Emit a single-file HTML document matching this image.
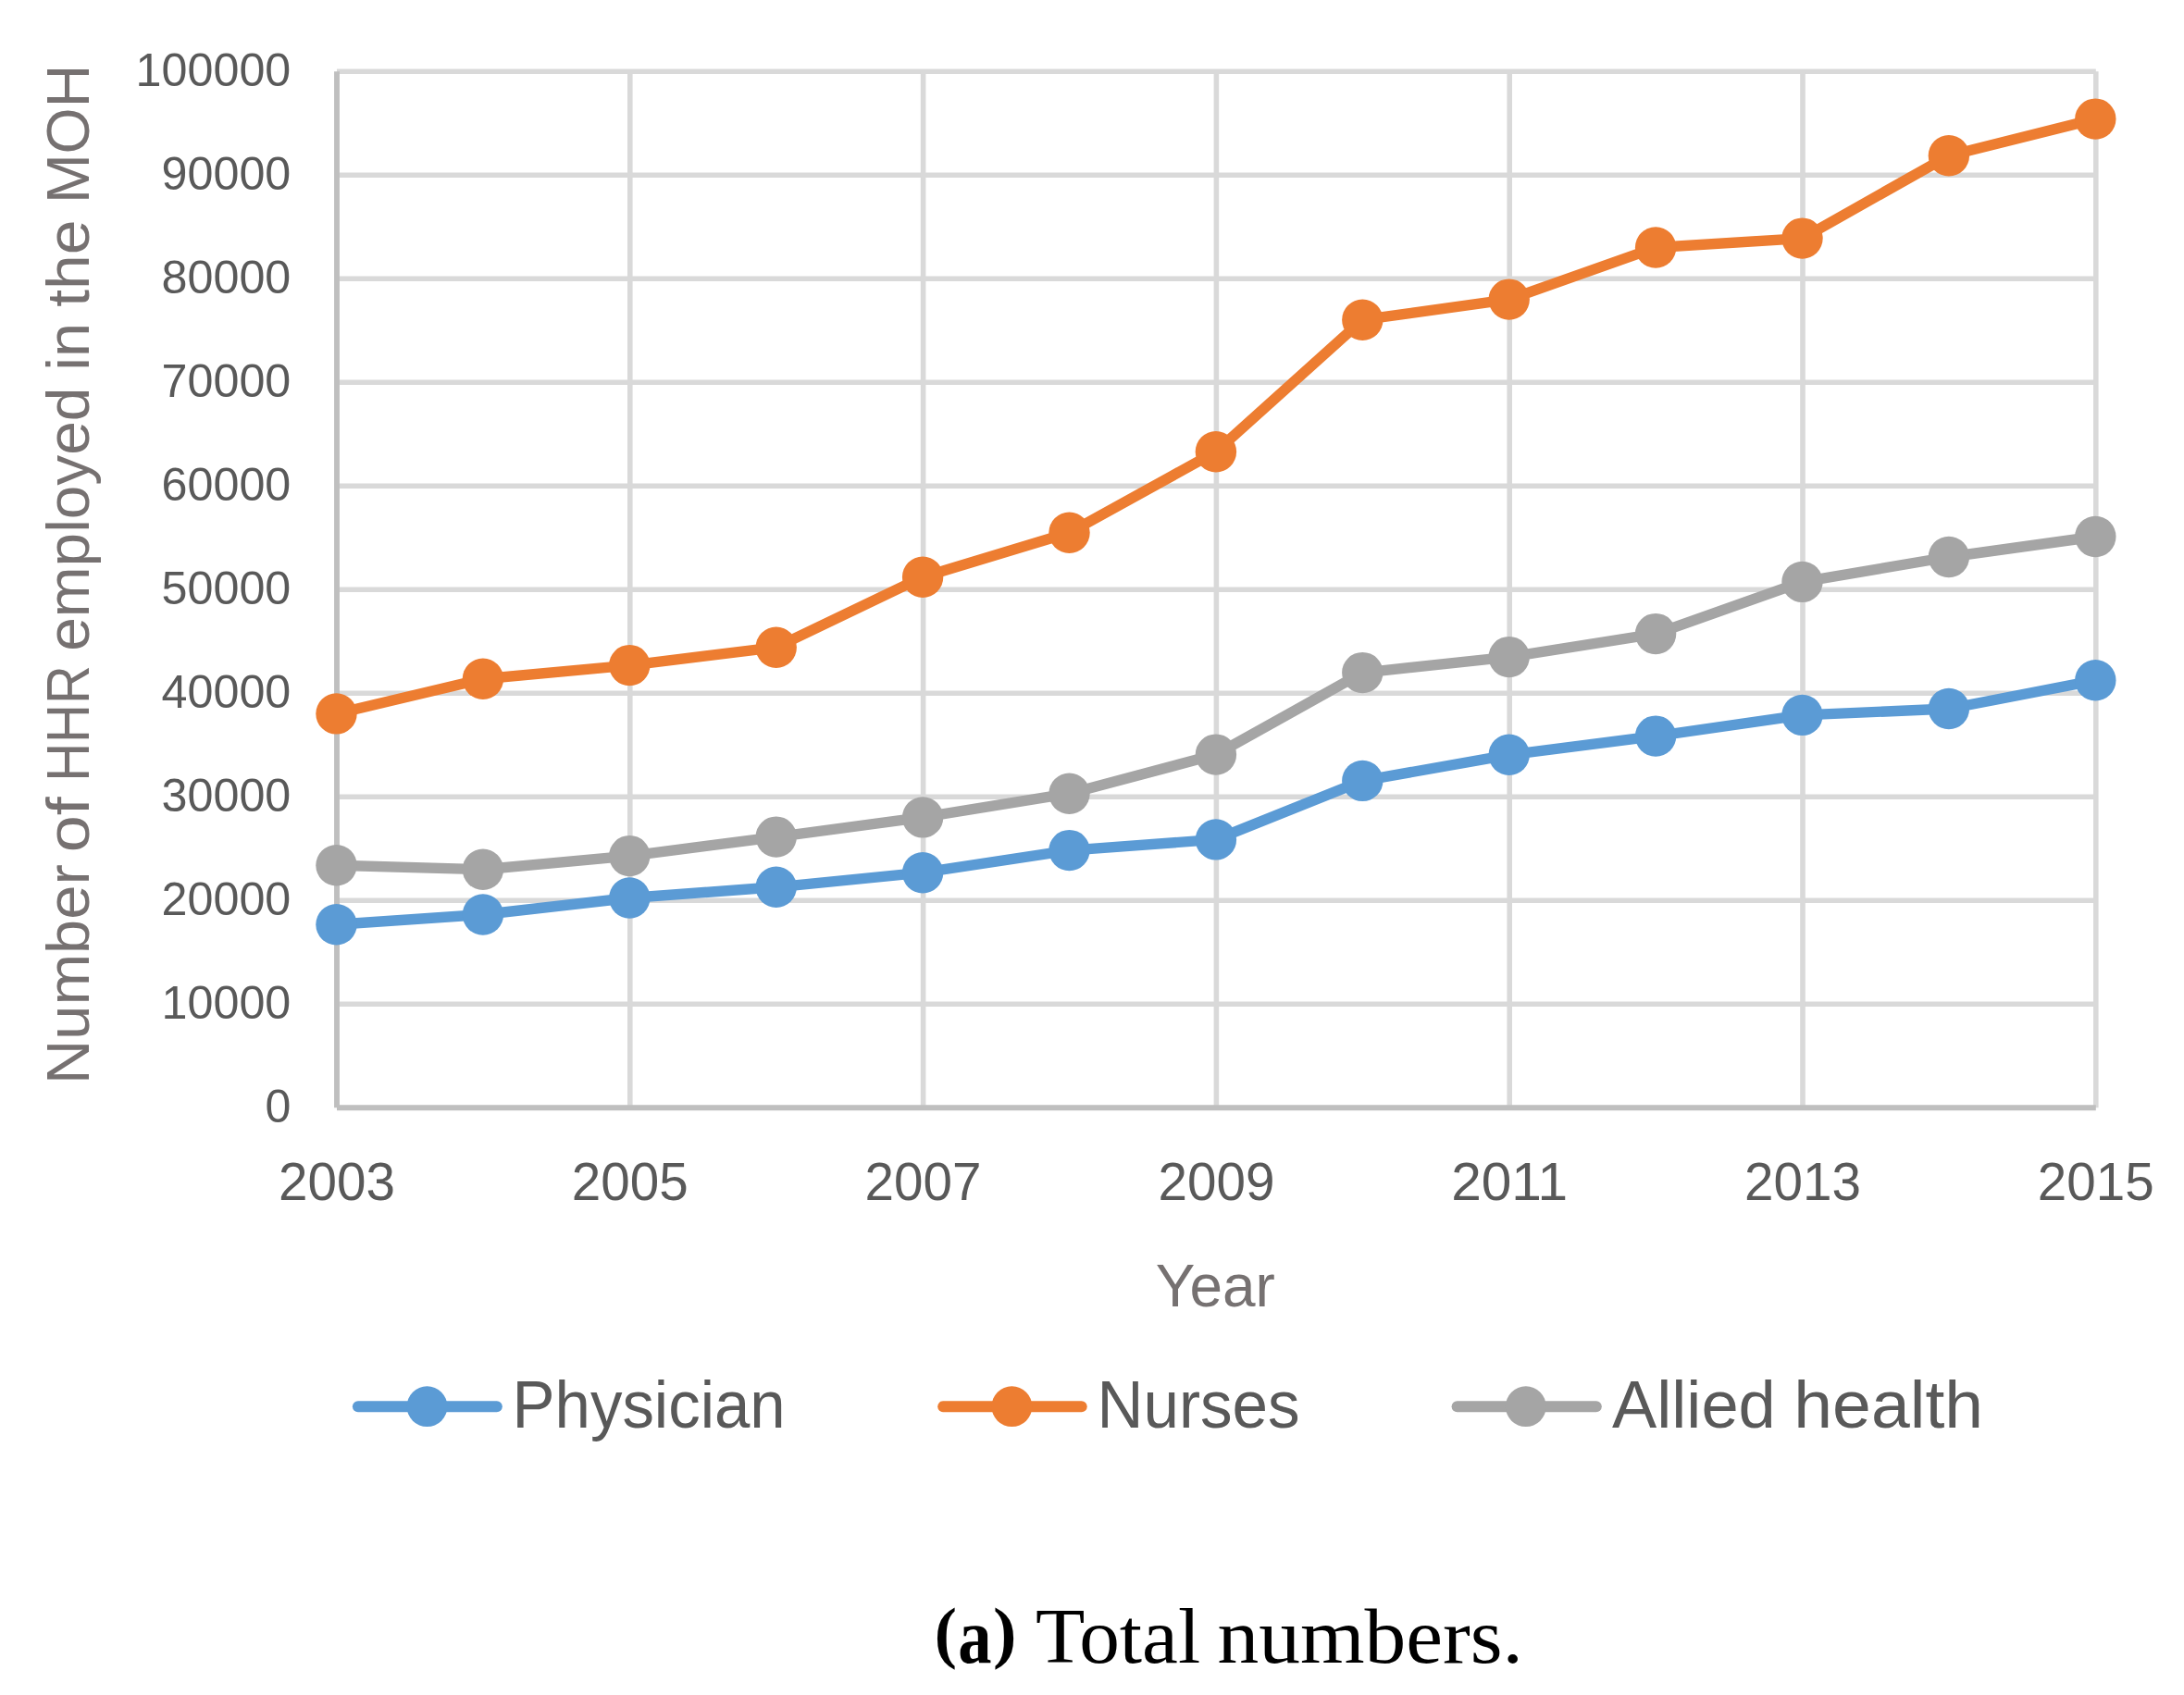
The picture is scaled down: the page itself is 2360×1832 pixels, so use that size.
<!DOCTYPE html>
<html lang="en"><head><meta charset="utf-8"><title>Total numbers</title>
<style>html,body{margin:0;padding:0;background:#fff}svg{display:block}text{font-family:"Liberation Sans",sans-serif}.cap{font-family:"Liberation Serif",serif}</style></head><body>
<svg width="2360" height="1832" viewBox="0 0 2360 1832">
<rect width="2360" height="1832" fill="#fff"/>
<g stroke="#d9d9d9" stroke-width="5.6" fill="none">
<line x1="364.0" y1="1085.3" x2="2264.8" y2="1085.3"/>
<line x1="364.0" y1="973.3" x2="2264.8" y2="973.3"/>
<line x1="364.0" y1="861.3" x2="2264.8" y2="861.3"/>
<line x1="364.0" y1="749.3" x2="2264.8" y2="749.3"/>
<line x1="364.0" y1="637.2" x2="2264.8" y2="637.2"/>
<line x1="364.0" y1="525.2" x2="2264.8" y2="525.2"/>
<line x1="364.0" y1="413.2" x2="2264.8" y2="413.2"/>
<line x1="364.0" y1="301.2" x2="2264.8" y2="301.2"/>
<line x1="364.0" y1="189.2" x2="2264.8" y2="189.2"/>
<line x1="364.0" y1="77.2" x2="2264.8" y2="77.2"/>
<line x1="680.8" y1="77.2" x2="680.8" y2="1197.3"/>
<line x1="997.6" y1="77.2" x2="997.6" y2="1197.3"/>
<line x1="1314.4" y1="77.2" x2="1314.4" y2="1197.3"/>
<line x1="1631.2" y1="77.2" x2="1631.2" y2="1197.3"/>
<line x1="1948.0" y1="77.2" x2="1948.0" y2="1197.3"/>
<line x1="2264.8" y1="77.2" x2="2264.8" y2="1197.3"/>
</g>
<g stroke="#bfbfbf" stroke-width="5.9" fill="none">
<line x1="364.0" y1="77.2" x2="364.0" y2="1197.3"/>
<line x1="364.0" y1="1197.3" x2="2264.8" y2="1197.3"/>
</g>
<g fill="#595959" font-size="50.2" text-anchor="end">
<text x="314.3" y="1212.8" textLength="27.9" lengthAdjust="spacingAndGlyphs">0</text>
<text x="314.3" y="1100.8" textLength="139.8" lengthAdjust="spacingAndGlyphs">10000</text>
<text x="314.3" y="988.8" textLength="139.8" lengthAdjust="spacingAndGlyphs">20000</text>
<text x="314.3" y="876.8" textLength="139.8" lengthAdjust="spacingAndGlyphs">30000</text>
<text x="314.3" y="764.8" textLength="139.8" lengthAdjust="spacingAndGlyphs">40000</text>
<text x="314.3" y="652.8" textLength="139.8" lengthAdjust="spacingAndGlyphs">50000</text>
<text x="314.3" y="540.7" textLength="139.8" lengthAdjust="spacingAndGlyphs">60000</text>
<text x="314.3" y="428.7" textLength="139.8" lengthAdjust="spacingAndGlyphs">70000</text>
<text x="314.3" y="316.7" textLength="139.8" lengthAdjust="spacingAndGlyphs">80000</text>
<text x="314.3" y="204.7" textLength="139.8" lengthAdjust="spacingAndGlyphs">90000</text>
<text x="314.3" y="92.7" textLength="167.7" lengthAdjust="spacingAndGlyphs">100000</text>
</g>
<g fill="#595959" font-size="56.5" text-anchor="middle">
<text x="364.0" y="1296.9" textLength="126.0" lengthAdjust="spacingAndGlyphs">2003</text>
<text x="680.8" y="1296.9" textLength="126.0" lengthAdjust="spacingAndGlyphs">2005</text>
<text x="997.6" y="1296.9" textLength="126.0" lengthAdjust="spacingAndGlyphs">2007</text>
<text x="1314.4" y="1296.9" textLength="126.0" lengthAdjust="spacingAndGlyphs">2009</text>
<text x="1631.2" y="1296.9" textLength="126.0" lengthAdjust="spacingAndGlyphs">2011</text>
<text x="1948.0" y="1296.9" textLength="126.0" lengthAdjust="spacingAndGlyphs">2013</text>
<text x="2264.8" y="1296.9" textLength="126.0" lengthAdjust="spacingAndGlyphs">2015</text>
</g>
<text y="1411.7" fill="#767171" font-size="64.0"><tspan x="1248.72" textLength="129.18" lengthAdjust="spacingAndGlyphs">Year</tspan></text>
<text transform="translate(96.4 1166.3) rotate(-90)" y="0" fill="#767171" font-size="65.3"><tspan x="-5.67" textLength="237.59" lengthAdjust="spacingAndGlyphs">Number</tspan> <tspan x="245.03" textLength="60.08" lengthAdjust="spacingAndGlyphs">of</tspan> <tspan x="321.54" textLength="125.55" lengthAdjust="spacingAndGlyphs">HHR</tspan> <tspan x="462.57" textLength="285.08" lengthAdjust="spacingAndGlyphs">employed</tspan> <tspan x="765.58" textLength="51.79" lengthAdjust="spacingAndGlyphs">in</tspan> <tspan x="834.60" textLength="94.21" lengthAdjust="spacingAndGlyphs">the</tspan> <tspan x="946.20" textLength="150.49" lengthAdjust="spacingAndGlyphs">MOH</tspan></text>
<polyline points="363.5,999.2 521.9,988.5 680.3,970.5 838.7,958.8 997.1,943.2 1155.5,919.1 1313.9,907.4 1472.3,843.9 1630.7,815.8 1789.1,795.6 1947.5,772.9 2105.9,766.0 2264.3,735.3" fill="none" stroke="#5b9bd5" stroke-width="11.4" stroke-linejoin="round" stroke-linecap="round"/>
<g fill="#5b9bd5"><circle cx="363.5" cy="999.2" r="22.2"/><circle cx="521.9" cy="988.5" r="22.2"/><circle cx="680.3" cy="970.5" r="22.2"/><circle cx="838.7" cy="958.8" r="22.2"/><circle cx="997.1" cy="943.2" r="22.2"/><circle cx="1155.5" cy="919.1" r="22.2"/><circle cx="1313.9" cy="907.4" r="22.2"/><circle cx="1472.3" cy="843.9" r="22.2"/><circle cx="1630.7" cy="815.8" r="22.2"/><circle cx="1789.1" cy="795.6" r="22.2"/><circle cx="1947.5" cy="772.9" r="22.2"/><circle cx="2105.9" cy="766.0" r="22.2"/><circle cx="2264.3" cy="735.3" r="22.2"/></g>
<polyline points="363.5,771.4 521.9,733.7 680.3,719.1 838.7,699.7 997.1,623.7 1155.5,575.8 1313.9,488.2 1472.3,345.7 1630.7,323.6 1789.1,267.5 1947.5,257.6 2105.9,168.2 2264.3,128.6" fill="none" stroke="#ed7d31" stroke-width="11.4" stroke-linejoin="round" stroke-linecap="round"/>
<g fill="#ed7d31"><circle cx="363.5" cy="771.4" r="22.2"/><circle cx="521.9" cy="733.7" r="22.2"/><circle cx="680.3" cy="719.1" r="22.2"/><circle cx="838.7" cy="699.7" r="22.2"/><circle cx="997.1" cy="623.7" r="22.2"/><circle cx="1155.5" cy="575.8" r="22.2"/><circle cx="1313.9" cy="488.2" r="22.2"/><circle cx="1472.3" cy="345.7" r="22.2"/><circle cx="1630.7" cy="323.6" r="22.2"/><circle cx="1789.1" cy="267.5" r="22.2"/><circle cx="1947.5" cy="257.6" r="22.2"/><circle cx="2105.9" cy="168.2" r="22.2"/><circle cx="2264.3" cy="128.6" r="22.2"/></g>
<polyline points="363.5,935.2 521.9,939.7 680.3,925.1 838.7,904.6 997.1,883.4 1155.5,857.7 1313.9,815.6 1472.3,727.1 1630.7,710.1 1789.1,685.1 1947.5,628.9 2105.9,602.0 2264.3,580.0" fill="none" stroke="#a5a5a5" stroke-width="11.4" stroke-linejoin="round" stroke-linecap="round"/>
<g fill="#a5a5a5"><circle cx="363.5" cy="935.2" r="22.2"/><circle cx="521.9" cy="939.7" r="22.2"/><circle cx="680.3" cy="925.1" r="22.2"/><circle cx="838.7" cy="904.6" r="22.2"/><circle cx="997.1" cy="883.4" r="22.2"/><circle cx="1155.5" cy="857.7" r="22.2"/><circle cx="1313.9" cy="815.6" r="22.2"/><circle cx="1472.3" cy="727.1" r="22.2"/><circle cx="1630.7" cy="710.1" r="22.2"/><circle cx="1789.1" cy="685.1" r="22.2"/><circle cx="1947.5" cy="628.9" r="22.2"/><circle cx="2105.9" cy="602.0" r="22.2"/><circle cx="2264.3" cy="580.0" r="22.2"/></g>
<line x1="386.9" y1="1520.2" x2="536.8" y2="1520.2" stroke="#5b9bd5" stroke-width="12" stroke-linecap="round"/>
<circle cx="461.5" cy="1520.2" r="21.9" fill="#5b9bd5"/>
<text y="1542.7" fill="#595959" font-size="72.6"><tspan x="553.57" textLength="295.12" lengthAdjust="spacingAndGlyphs">Physician</tspan></text>
<line x1="1019.2" y1="1520.2" x2="1168.7" y2="1520.2" stroke="#ed7d31" stroke-width="12" stroke-linecap="round"/>
<circle cx="1093.4" cy="1520.2" r="21.9" fill="#ed7d31"/>
<text y="1542.7" fill="#595959" font-size="72.6"><tspan x="1185.49" textLength="219.15" lengthAdjust="spacingAndGlyphs">Nurses</tspan></text>
<line x1="1574.6" y1="1520.2" x2="1724.8" y2="1520.2" stroke="#a5a5a5" stroke-width="12" stroke-linecap="round"/>
<circle cx="1648.8" cy="1520.2" r="21.9" fill="#a5a5a5"/>
<text y="1542.7" fill="#595959" font-size="72.6"><tspan x="1742.00" textLength="176.81" lengthAdjust="spacingAndGlyphs">Allied</tspan> <tspan x="1938.32" textLength="204.84" lengthAdjust="spacingAndGlyphs">health</tspan></text>
<text class="cap" y="1796.9" fill="#000" font-size="84.0"><tspan font-weight="bold"><tspan font-size="73" dy="-8.2"><tspan x="1009.69" textLength="24.20" lengthAdjust="spacingAndGlyphs">(</tspan></tspan><tspan dy="8.2"><tspan x="1035.17" textLength="36.25" lengthAdjust="spacingAndGlyphs">a</tspan></tspan><tspan font-size="73" dy="-8.2"><tspan x="1073.00" textLength="25.48" lengthAdjust="spacingAndGlyphs">)</tspan></tspan></tspan><tspan dy="8.2"> </tspan><tspan x="1118.90" textLength="178.29" lengthAdjust="spacingAndGlyphs">Total</tspan> <tspan x="1315.48" textLength="330.49" lengthAdjust="spacingAndGlyphs">numbers.</tspan></text>
</svg></body></html>
